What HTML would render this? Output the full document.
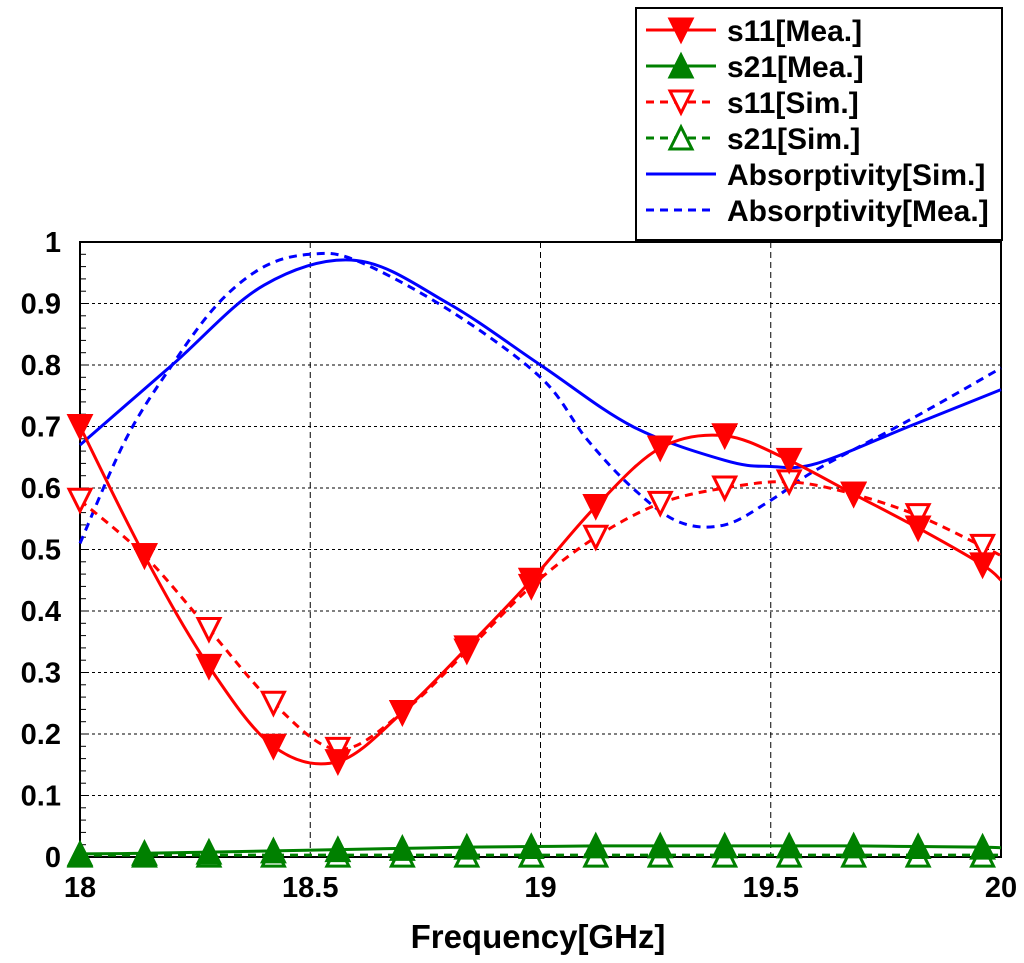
<!DOCTYPE html>
<html><head><meta charset="utf-8"><style>
html,body{margin:0;padding:0;background:#fff;}
svg{display:block;font-family:"Liberation Sans",Arial,sans-serif;font-weight:bold;}
</style></head><body>
<svg id="c" width="1024" height="963" viewBox="0 0 1024 963"></svg>
<script>
const markerFreqs=[18,18.14,18.28,18.42,18.56,18.7,18.84,18.98,19.12,19.26,19.4,19.54,19.68,19.82,19.96,20];
const s11Mea=[0.70,0.49,0.31,0.18,0.155,0.235,0.34,0.45,0.57,0.665,0.685,0.645,0.59,0.535,0.475,0.45];
const s11Sim=[0.58,0.49,0.37,0.25,0.175,0.235,0.335,0.44,0.52,0.575,0.60,0.61,0.59,0.555,0.505,0.49];
const s21Mea=[0.005,0.006,0.008,0.010,0.012,0.014,0.016,0.017,0.018,0.018,0.018,0.018,0.018,0.017,0.016,0.015];
const s21Sim=[0.003,0.003,0.003,0.003,0.003,0.003,0.003,0.003,0.003,0.003,0.003,0.003,0.003,0.003,0.003,0.003];
const absSimF=[18,18.2,18.4,18.6,18.8,19,19.2,19.4,19.5,19.6,19.8,20];
const absSim=[0.67,0.80,0.93,0.97,0.90,0.80,0.70,0.645,0.635,0.64,0.70,0.76];
const absMeaF=[18,18.1,18.2,18.3,18.4,18.5,18.6,18.8,19,19.1,19.2,19.3,19.4,19.5,19.6,19.8,20];
const absMea=[0.51,0.68,0.80,0.90,0.96,0.98,0.97,0.89,0.78,0.68,0.60,0.545,0.54,0.58,0.63,0.71,0.795];
const yTicks=[0,0.1,0.2,0.3,0.4,0.5,0.6,0.7,0.8,0.9,1];
const yTickLabels=["0","0.1","0.2","0.3","0.4","0.5","0.6","0.7","0.8","0.9","1"];
const xTicks=[18,18.5,19,19.5,20];
const xTickLabels=["18","18.5","19","19.5","20"];

const L=80,R=1001,T=242,B=857;
const X=f=>L+(f-18)/2*(R-L);
const Y=v=>B-v*(B-T);
const svg=document.getElementById('c');
const NS='http://www.w3.org/2000/svg';
function mk(tag,attrs,parent){const e=document.createElementNS(NS,tag);for(const k in attrs)e.setAttribute(k,attrs[k]);(parent||svg).appendChild(e);return e;}
function smooth(xs,ys){const p=xs.map((x,i)=>[X(x),Y(ys[i])]);let d='M'+p[0][0]+','+p[0][1];
for(let i=0;i<p.length-1;i++){const p0=p[i-1]||p[i],p1=p[i],p2=p[i+1],p3=p[i+2]||p2;
d+=' C'+(p1[0]+(p2[0]-p0[0])/6)+','+(p1[1]+(p2[1]-p0[1])/6)+' '+(p2[0]-(p3[0]-p1[0])/6)+','+(p2[1]-(p3[1]-p1[1])/6)+' '+p2[0]+','+p2[1];}return d;}

yTicks.forEach((v,i)=>{
 if(i>0&&i<yTicks.length-1){const g=mk('line',{x1:L,x2:R,y1:Y(v),y2:Y(v),stroke:'#000','stroke-width':1,'stroke-dasharray':'3,3'});
 }
 const t=mk('text',{x:L-19,y:Y(v)+10,'text-anchor':'end','font-size':29});t.textContent=yTickLabels[i];
 
});
for(let v=0;v<1;v+=0.02){mk('line',{x1:L,x2:L+6,y1:Y(v),y2:Y(v),stroke:'#000','stroke-width':1});}
xTicks.forEach((f,i)=>{
 if(i>0&&i<xTicks.length-1){const g=mk('line',{x1:X(f),x2:X(f),y1:T,y2:B,stroke:'#000','stroke-width':1,'stroke-dasharray':'6,4'});
 }
 const t=mk('text',{x:X(f),y:B+40,'text-anchor':'middle','font-size':29});t.textContent=xTickLabels[i];
 
});
const fr=mk('rect',{x:L,y:T,width:R-L,height:B-T,fill:'none',stroke:'#000','stroke-width':2});


function line(xs,ys,color,dash,name){const p=mk('path',{d:smooth(xs,ys),fill:'none',stroke:color,'stroke-width':3,'stroke-dasharray':dash||'none'});
}
function tri(x,y,down,fill,color,name,g){const s=11;const pts=down?[[x-s,y-s],[x+s,y-s],[x,y+s]]:[[x-s,y+s],[x+s,y+s],[x,y-s]];
const e=mk('polygon',{points:pts.map(p=>p.join(',')).join(' '),fill:fill?color:'#fff',stroke:color,'stroke-width':3},g);
}
function markers(ys,down,fill,color,name){for(let i=0;i<markerFreqs.length-1;i++)tri(X(markerFreqs[i]),Y(ys[i]),down,fill,color,name);}

line(absSimF,absSim,'#0000ff',null,'absorptivity-sim-line');
line(absMeaF,absMea,'#0000ff','8,6','absorptivity-mea-line');
line(markerFreqs,s21Sim,'#008000','8,6','s21-sim-line');
line(markerFreqs,s21Mea,'#008000',null,'s21-mea-line');
line(markerFreqs,s11Sim,'#ff0000','8,6','s11-sim-line');
line(markerFreqs,s11Mea,'#ff0000',null,'s11-mea-line');
markers(s21Sim,false,false,'#008000','s21-sim-marker');
markers(s21Mea,false,true,'#008000','s21-mea-marker');
markers(s11Sim,true,false,'#ff0000','s11-sim-marker');
markers(s11Mea,true,true,'#ff0000','s11-mea-marker');

const xt=mk('text',{x:538,y:948,'text-anchor':'middle','font-size':33});xt.textContent='Frequency[GHz]';


const lg=mk('g',{});
mk('rect',{x:636,y:8,width:366,height:232,fill:'#fff',stroke:'#000','stroke-width':2},lg);
const entries=[['s11[Mea.]','#ff0000',null,'down',true],['s21[Mea.]','#008000',null,'up',true],['s11[Sim.]','#ff0000','8,6','down',false],['s21[Sim.]','#008000','8,6','up',false],['Absorptivity[Sim.]','#0000ff',null,null,false],['Absorptivity[Mea.]','#0000ff','8,6',null,false]];
entries.forEach((e,i)=>{const y=30+i*36;const g=mk('g',{},lg);

mk('line',{x1:646,x2:716,y1:y,y2:y,stroke:e[1],'stroke-width':3,'stroke-dasharray':e[2]||'none'},g);
if(e[3])tri(681,y,e[3]==='down',e[4],e[1],'legend-marker',g);
const t=mk('text',{x:727,y:y+11,'font-size':30},g);t.textContent=e[0];});
</script>
</body></html>
